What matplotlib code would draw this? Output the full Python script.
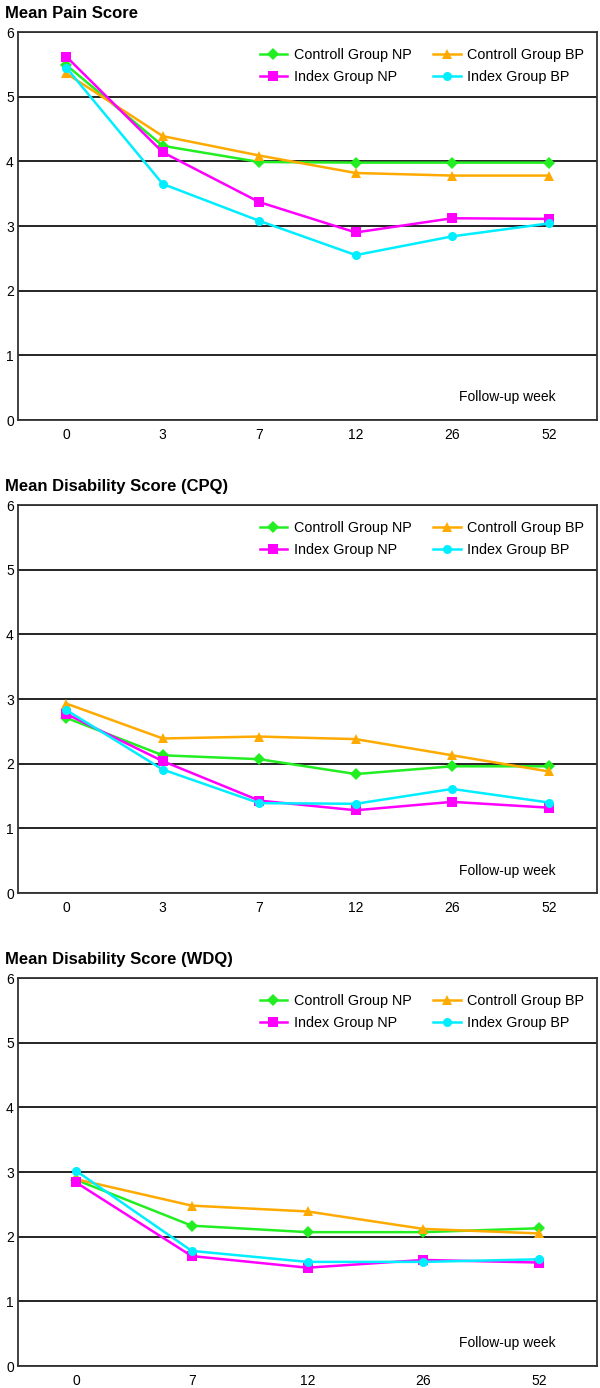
import numpy as np
import matplotlib.pyplot as plt

plt.rcParams['font.family'] = ['Liberation Sans', 'DejaVu Sans']

series_names = ["Controll Group NP", "Controll Group BP", "Index Group NP", "Index Group BP"]
colors = ["#22ee22", "#ffaa00", "#ff00ff", "#00eeff"]
markers = ["D", "^", "s", "o"]

# panel 1: mean pain score
weeks_pain = ["0", "3", "7", "12", "26", "52"]
pain_ctrl_np = [5.49, 4.24, 3.99, 3.98, 3.98, 3.98]
pain_ctrl_bp = [5.36, 4.39, 4.09, 3.82, 3.78, 3.78]
pain_idx_np = [5.62, 4.14, 3.37, 2.90, 3.12, 3.11]
pain_idx_bp = [5.45, 3.65, 3.08, 2.55, 2.84, 3.04]

# panel 2: CPQ
weeks_cpq = ["0", "3", "7", "12", "26", "52"]
cpq_ctrl_np = [2.71, 2.13, 2.07, 1.84, 1.96, 1.96]
cpq_ctrl_bp = [2.93, 2.39, 2.42, 2.38, 2.13, 1.88]
cpq_idx_np = [2.77, 2.04, 1.43, 1.28, 1.41, 1.32]
cpq_idx_bp = [2.83, 1.91, 1.39, 1.38, 1.61, 1.40]

# panel 3: WDQ
weeks_wdq = ["0", "7", "12", "26", "52"]
wdq_ctrl_np = [2.88, 2.17, 2.07, 2.07, 2.13]
wdq_ctrl_bp = [2.89, 2.48, 2.39, 2.12, 2.05]
wdq_idx_np = [2.84, 1.70, 1.52, 1.64, 1.60]
wdq_idx_bp = [3.02, 1.78, 1.61, 1.61, 1.65]

panels = [
    ("Mean Pain Score", weeks_pain, [pain_ctrl_np, pain_ctrl_bp, pain_idx_np, pain_idx_bp]),
    ("Mean Disability Score (CPQ)", weeks_cpq, [cpq_ctrl_np, cpq_ctrl_bp, cpq_idx_np, cpq_idx_bp]),
    ("Mean Disability Score (WDQ)", weeks_wdq, [wdq_ctrl_np, wdq_ctrl_bp, wdq_idx_np, wdq_idx_bp]),
]

fig = plt.figure(figsize=(6, 13.88), dpi=100)
bottoms = [0.6974, 0.3566, 0.01585]
h = 388 / 1388

for (title, weeks, data), b in zip(panels, bottoms):
    ax = fig.add_axes([0.03, b, 0.965, h])
    x = np.arange(len(weeks))
    for name, vals, c, m in zip(series_names, data, colors, markers):
        ax.plot(x, vals, color=c, marker=m, markersize=6.5, linewidth=1.8, label=name,
                markeredgewidth=0, zorder=3)
    ax.set_xlim(-0.5, len(weeks) - 0.5)
    ax.set_ylim(0, 6)
    ax.set_yticks(range(7))
    ax.set_xticks(x)
    ax.set_xticklabels(weeks)
    ax.yaxis.grid(True, color="black", linewidth=1.2)
    ax.set_axisbelow(True)
    ax.tick_params(length=0, labelsize=10, pad=6)
    ax.tick_params(axis="y", pad=3)
    for sp in ax.spines.values():
        sp.set_color("#333333")
        sp.set_linewidth(1.3)
    handles, labels = ax.get_legend_handles_labels()
    # ncol=2 fills column-wise: row1 = controll NP / BP, row2 = index NP / BP
    order = [0, 2, 1, 3]
    ax.legend([handles[i] for i in order], [labels[i] for i in order], ncol=2,
              loc="upper right", frameon=False, fontsize=10.4, handlelength=1.9,
              columnspacing=1.5, handletextpad=0.45, bbox_to_anchor=(1.0, 0.993),
              labelspacing=0.6)
    ax.text(0.929, 0.04, "Follow-up week", transform=ax.transAxes, ha="right",
            va="bottom", fontsize=10)
    fig.text(0.008, b + h + 0.008, title, fontsize=12, fontweight="bold", ha="left", va="bottom")

fig.savefig("out.png", dpi=100)
